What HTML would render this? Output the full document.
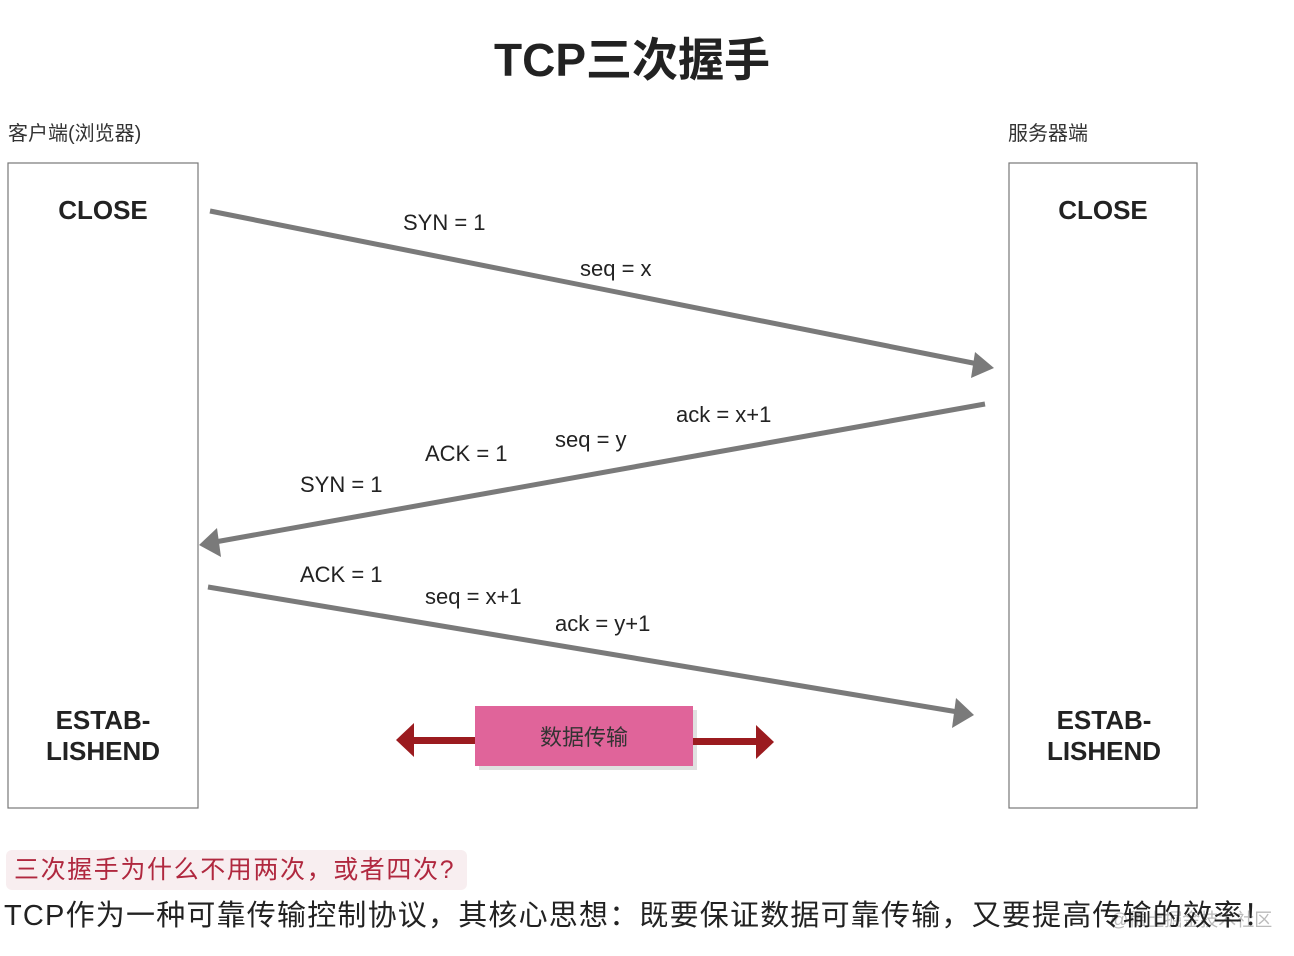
<!DOCTYPE html>
<html><head><meta charset="utf-8"><style>
body{margin:0;background:#fff;width:1294px;height:956px;overflow:hidden;position:relative;font-family:"Liberation Sans","Noto Sans CJK SC",sans-serif}
svg{position:absolute;left:0;top:0}
.q{position:absolute;left:6px;top:850px;width:461px;height:40px;background:#f8eef0;border-radius:6px;color:#b0283f;font-size:25px;letter-spacing:1.6px;line-height:40px;padding-left:8px;box-sizing:border-box}
.t{position:absolute;left:4px;top:896px;font-size:29px;letter-spacing:1.2px;color:#222;white-space:nowrap;line-height:40px}
</style></head><body>
<svg width="1294" height="956" font-family="Liberation Sans, Noto Sans CJK SC, sans-serif">
<text x="632" y="76" text-anchor="middle" font-size="46" font-weight="bold" fill="#222">TCP三次握手</text>
<text x="8" y="140" font-size="20" fill="#333">客户端(浏览器)</text>
<text x="1008" y="140" font-size="20" fill="#333">服务器端</text>
<rect x="8" y="163" width="190" height="645" fill="none" stroke="#777" stroke-width="1.2"/>
<rect x="1009" y="163" width="188" height="645" fill="none" stroke="#777" stroke-width="1.2"/>
<g font-size="26" font-weight="bold" fill="#222" text-anchor="middle">
<text x="103" y="219">CLOSE</text><text x="1103" y="219">CLOSE</text>
<text x="103" y="729">ESTAB-</text><text x="103" y="760">LISHEND</text>
<text x="1104" y="729">ESTAB-</text><text x="1104" y="760">LISHEND</text>
</g>
<g stroke="#7a7a7a" stroke-width="5" fill="none">
<line x1="210" y1="211" x2="978" y2="364"/>
<line x1="985" y1="404" x2="215" y2="542"/>
<line x1="208" y1="587" x2="958" y2="712"/>
</g>
<g fill="#7a7a7a">
<polygon points="994,368 975,352 971,378"/>
<polygon points="199,545 217,528 221,557"/>
<polygon points="974,715 956,698 952,728"/>
</g>
<g font-size="22" fill="#222">
<text x="403" y="230">SYN = 1</text>
<text x="580" y="276">seq = x</text>
<text x="676" y="422">ack = x+1</text>
<text x="555" y="447">seq = y</text>
<text x="425" y="461">ACK = 1</text>
<text x="300" y="492">SYN = 1</text>
<text x="300" y="582">ACK = 1</text>
<text x="425" y="604">seq = x+1</text>
<text x="555" y="631">ack = y+1</text>
</g>
<rect x="479" y="710" width="218" height="60" fill="#ccc" opacity="0.6"/>
<rect x="475" y="706" width="218" height="60" fill="#e0649a"/>
<text x="584" y="745" text-anchor="middle" font-size="22" fill="#333">数据传输</text>
<g fill="#9b1b1f">
<rect x="412" y="737" width="63" height="7"/>
<polygon points="396,740 414,723 414,757"/>
<rect x="693" y="738" width="64" height="7"/>
<polygon points="774,742 756,725 756,759"/>
</g>
<text x="1110" y="926" font-size="18" fill="#bbb">@稀土掘金技术社区</text>
</svg>
<div class="q">三次握手为什么不用两次，或者四次?</div>
<div class="t">TCP作为一种可靠传输控制协议，其核心思想：既要保证数据可靠传输，又要提高传输的效率！</div>
</body></html>
